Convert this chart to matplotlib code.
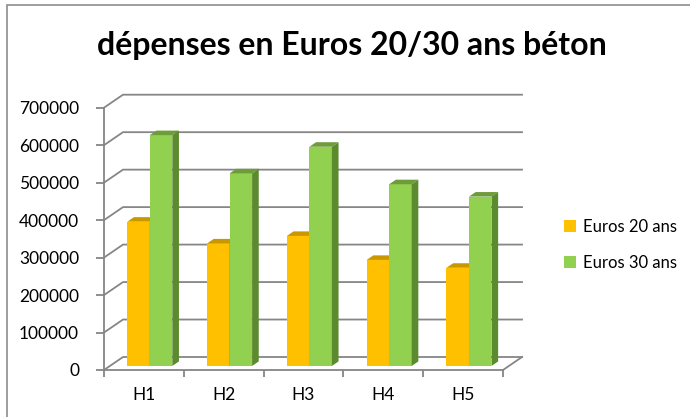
import numpy as np
import matplotlib.pyplot as plt
from matplotlib.patches import Polygon, Rectangle

categories = ["H1", "H2", "H3", "H4", "H5"]
euros_20 = [385000, 327000, 347000, 283000, 262000]
euros_30 = [616000, 514000, 585000, 485000, 452000]
series_names = ["Euros 20 ans", "Euros 30 ans"]
yticks = [0, 100000, 200000, 300000, 400000, 500000, 600000, 700000]

plt.rcParams["font.family"] = ["Lato", "DejaVu Sans"]

W, H = 690, 417
fig = plt.figure(figsize=(6.9, 4.17), dpi=100)
fig.patch.set_facecolor("white")

# chart border (runs off the right / bottom edge like the screenshot)
fig.patches.append(Rectangle((7 / W, -0.1), 1.1, (417 - 5) / H + 0.1,
                             transform=fig.transFigure, fill=False,
                             edgecolor="#8c8c8c", lw=1.2))

# front plane of the plot area in pixels
x0, x1 = 104, 503
y0, y1 = 370, 107.7
ax = fig.add_axes([x0 / W, (H - y0) / H, (x1 - x0) / W, (y0 - y1) / H])
n = len(categories)
ax.set_xlim(0, n)
ax.set_ylim(0, 700000)

# depth of the box (back wall offset) in data units
dx = 19 / ((x1 - x0) / n)
dy = 13 / (y0 - y1) * 700000

grid_c = "#868686"
for v in yticks:
    ax.plot([0, dx, n + dx], [v, v + dy, v + dy], color=grid_c, lw=1.3,
            clip_on=False, zorder=1)
ax.plot([n, n + dx], [0, dy], color=grid_c, lw=1.3, clip_on=False, zorder=1)

# bars: front face + top face + right side face
f0, f1 = 0.31, 0.66
bw = 0.282
front_cols = ["#FFC000", "#92D050"]
top_cols = ["#C99700", "#6E9C3A"]
side_cols = ["#B38600", "#5C8A2E"]
xs = np.arange(n)
ddx, ddy = (f1 - f0) * dx, (f1 - f0) * dy
for i, vals in enumerate([euros_20, euros_30]):
    left = xs + 0.5 - bw + i * bw + f0 * dx
    ax.bar(left, vals, bottom=f0 * dy, width=bw, align="edge",
           color=front_cols[i], zorder=3, label=series_names[i])
    for l, v in zip(left, vals):
        top = v + f0 * dy
        ax.add_patch(Polygon([(l, top), (l + bw, top), (l + bw + ddx, top + ddy),
                              (l + ddx, top + ddy)], closed=True,
                             facecolor=top_cols[i], edgecolor="none",
                             zorder=3, clip_on=False))
        ax.add_patch(Polygon([(l + bw, f0 * dy), (l + bw + ddx, f0 * dy + ddy),
                              (l + bw + ddx, top + ddy), (l + bw, top)],
                             closed=True, facecolor=side_cols[i],
                             edgecolor="none", zorder=3, clip_on=False))

# axes
for s in ["top", "right"]:
    ax.spines[s].set_visible(False)
for s in ["left", "bottom"]:
    ax.spines[s].set_color(grid_c)
    ax.spines[s].set_linewidth(1.3)
    ax.spines[s].set_zorder(2)
ax.set_facecolor("none")
ax.set_yticks(yticks)
ax.set_yticklabels([str(v) for v in yticks])
ax.set_xticks(np.arange(n + 1))
ax.set_xticklabels([])
ax.set_xticks(xs + 0.5, minor=True)
ax.set_xticklabels(categories, minor=True)
ax.tick_params(axis="y", length=6, width=1.3, color=grid_c, labelsize=12.5,
               pad=12, labelcolor="black")
ax.tick_params(axis="x", which="major", length=5, width=1.3, color=grid_c)
ax.tick_params(axis="x", which="minor", length=0, labelsize=12.5, pad=12)

fig.text(352 / W, 1 - 46 / H, "dépenses en Euros 20/30 ans béton",
         ha="center", va="center", fontsize=23, fontweight="bold")

ax.legend(loc="center left", bbox_to_anchor=(557 / W, 1 - 245 / H),
          bbox_transform=fig.transFigure, frameon=False, fontsize=12,
          handlelength=0.75, handleheight=0.75, handletextpad=0.4,
          labelspacing=1.2, borderaxespad=0)

fig.savefig("out.png", dpi=100)
